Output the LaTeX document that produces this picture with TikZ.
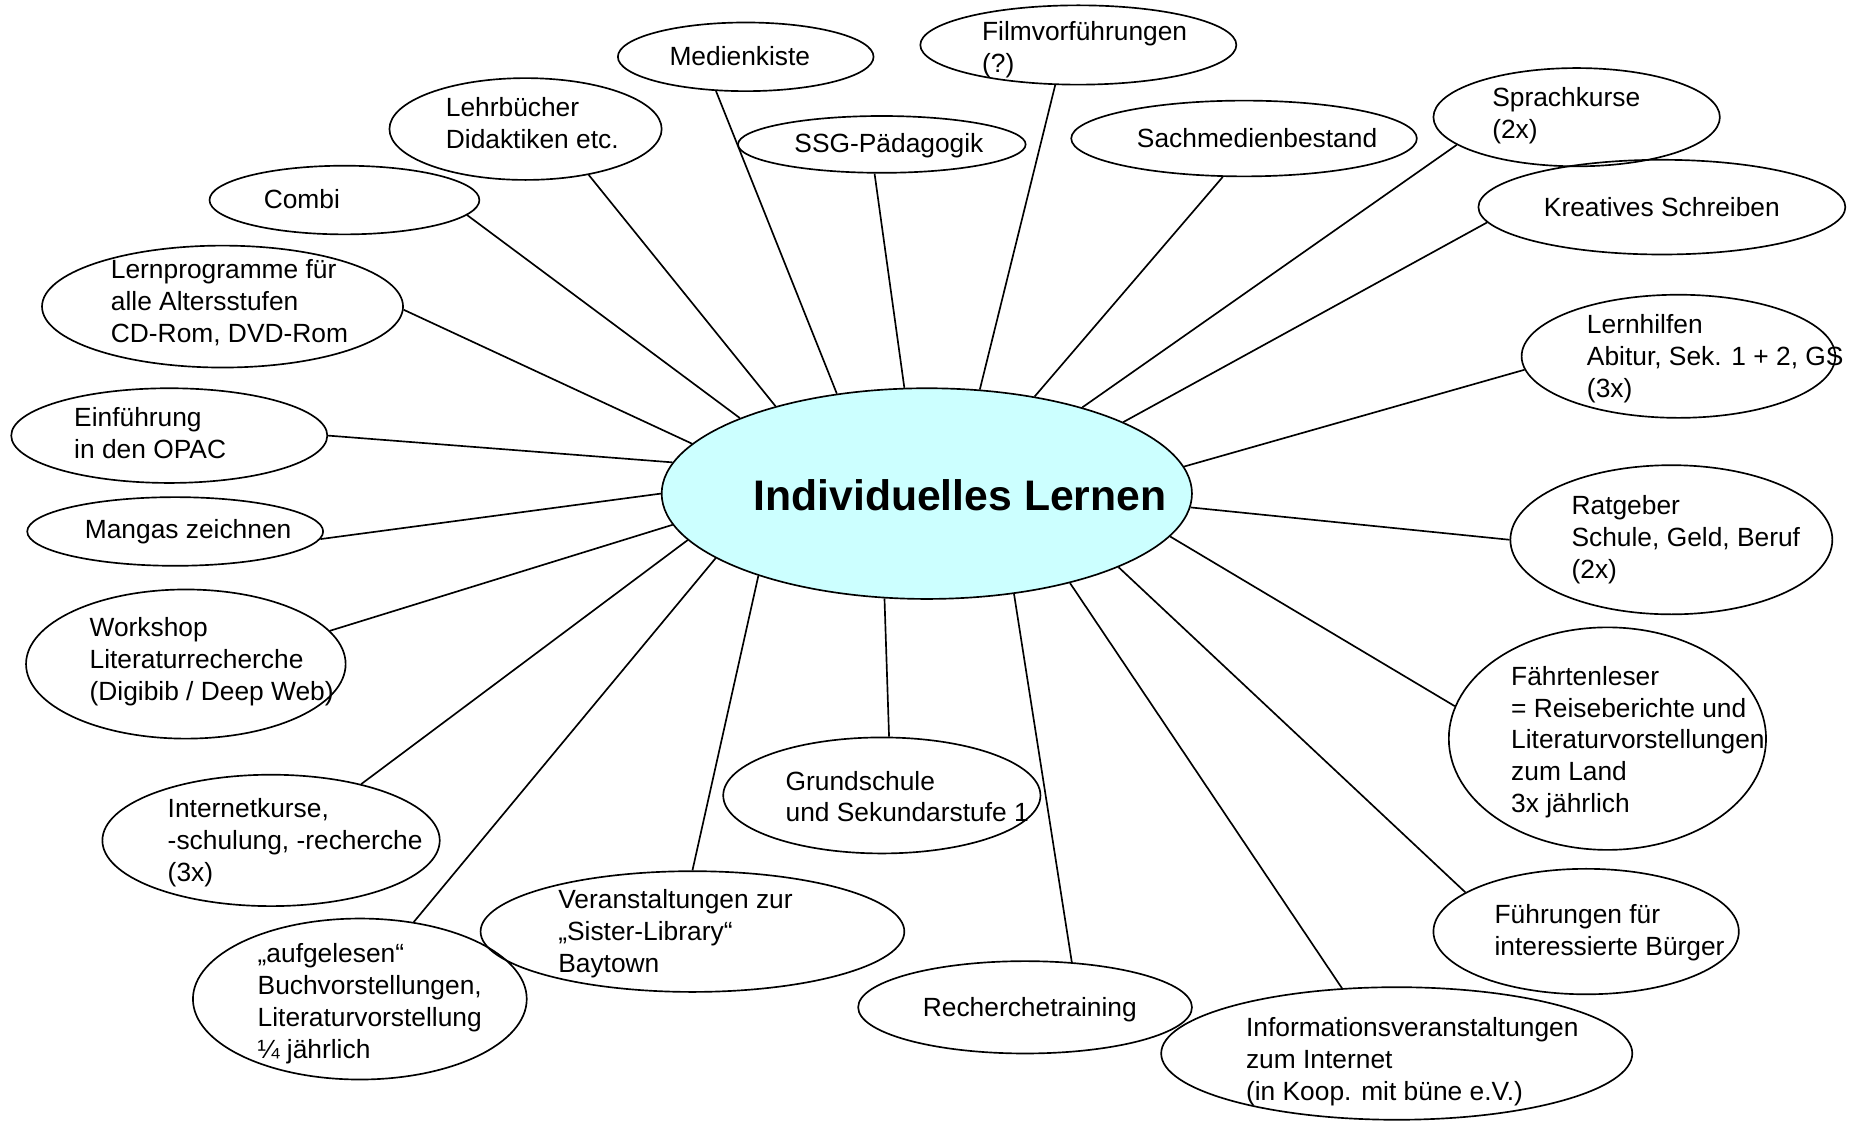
\documentclass[tikz,border=0pt]{standalone}
\usepackage{fontspec}
\setmainfont{Liberation Sans}
\usetikzlibrary{shapes.geometric}

\definecolor{hubcyan}{HTML}{CCFFFF}
\def\unit{0.015cm}

\begin{document}
\begin{tikzpicture}[x=\unit, y=-\unit, line width=0.6pt,
    dims/.style 2 args={minimum width=#1*\unit, minimum height=#2*\unit}]
  \tikzstyle{bubble}=[ellipse, draw, inner sep=0pt]
  \tikzstyle{hub}=[bubble, fill=hubcyan]
  \tikzstyle{annot}=[inner sep=0pt, align=left, font=\fontsize{9.5}{11.5}\selectfont]
  \tikzstyle{title}=[inner sep=0pt, font=\fontsize{15.4}{18}\selectfont\bfseries]

  \useasboundingbox (0,0) rectangle (1568,950);

  % Draw the centre
  \node[hub, dims={448}{178}] (hub) at (783,417) {};
  \node[title] (hub-t) at (811,418) {Individuelles Lernen};

  % Draw the upper ring
  \node[bubble, dims={216}{58}] (medien) at (630,48) {};
  \node[annot] (medien-t) at (625,47) {Medienkiste};
  \node[bubble, dims={267}{67}] (film) at (911,38) {};
  \node[annot, anchor=west] (film-t) at (829,42) {Filmvorführungen\\(?)};
  \node[bubble, dims={230}{86}] (lehr) at (444,109) {};
  \node[annot, anchor=west] (lehr-t) at (376,104) {Lehrbücher\\Didaktiken etc.};
  \node[bubble, dims={243}{48}] (ssg) at (745,122) {};
  \node[annot] (ssg-t) at (751,123) {SSG-Pädagogik};
  \node[bubble, dims={292}{64}] (sach) at (1051,117) {};
  \node[annot] (sach-t) at (1062,117) {Sachmedienbestand};
  \node[bubble, dims={242}{83}] (sprach) at (1332,99) {};
  \node[annot, anchor=west] (sprach-t) at (1260,98) {Sprachkurse\\(2x)};
  \node[bubble, dims={310}{80}] (kreativ) at (1404,175) {};
  \node[annot] (kreativ-t) at (1404,175) {Kreatives Schreiben};
  \node[bubble, dims={228}{58}] (combi) at (291,169) {};
  \node[annot] (combi-t) at (255,168) {Combi};

  % Draw the left side
  \node[bubble, dims={305}{103}] (lernprog) at (188,259) {};
  \node[annot, anchor=west] (lernprog-t) at (93,256)
    {Lernprogramme für\\alle Altersstufen\\CD-Rom, DVD-Rom};
  \node[bubble, dims={267}{80}] (opac) at (143,368) {};
  \node[annot, anchor=west] (opac-t) at (62,366) {Einführung\\in den OPAC};
  \node[bubble, dims={250}{58}] (manga) at (148,449) {};
  \node[annot, anchor=west] (manga-t) at (71,449) {Mangas zeichnen};
  \node[bubble, dims={270}{126}] (workshop) at (157,561) {};
  \node[annot, anchor=west] (workshop-t) at (75,559)
    {Workshop\\Literaturrecherche\\(Digibib / Deep Web)};
  \node[bubble, dims={285}{111}] (internet) at (229,710) {};
  \node[annot, anchor=west] (internet-t) at (141,712)
    {Internetkurse,\\-schulung, -recherche\\(3x)};
  \node[bubble, dims={282}{136}] (aufg) at (304,844) {};
  \node[annot, anchor=west] (aufg-t) at (217,848)
    {„aufgelesen“\\Buchvorstellungen,\\Literaturvorstellung\\¼ jährlich};

  % Draw the lower ring
  \node[bubble, dims={358}{102}] (sister) at (585,787) {};
  \node[annot, anchor=west] (sister-t) at (471,789)
    {Veranstaltungen zur\\„Sister-Library“\\Baytown};
  \node[bubble, dims={268}{98}] (grund) at (745,672) {};
  \node[annot, anchor=west] (grund-t) at (663,673)
    {Grundschule\\und Sekundarstufe 1};
  \node[bubble, dims={282}{78}] (recherche) at (866,851) {};
  \node[annot] (recherche-t) at (870,853) {Recherchetraining};
  \node[bubble, dims={398}{112}] (info) at (1180,890) {};
  \node[annot, anchor=west] (info-t) at (1052,897)
    {Informationsveranstaltungen\\zum Internet\\(in Koop. mit büne e.V.)};

  % Draw the right side
  \node[bubble, dims={258}{106}] (fuehr) at (1340,787) {};
  \node[annot, anchor=west] (fuehr-t) at (1262,788)
    {Führungen für\\interessierte Bürger};
  \node[bubble, dims={268}{188}] (faehrt) at (1358,624) {};
  \node[annot, anchor=west] (faehrt-t) at (1276,627)
    {Fährtenleser\\= Reiseberichte und\\Literaturvorstellungen\\zum Land\\3x jährlich};
  \node[bubble, dims={272}{126}] (ratgeber) at (1412,456) {};
  \node[annot, anchor=west] (ratgeber-t) at (1327,456)
    {Ratgeber\\Schule, Geld, Beruf\\(2x)};
  \node[bubble, dims={265}{104}] (lernhilf) at (1418,301) {};
  \node[annot, anchor=west] (lernhilf-t) at (1340,303)
    {Lernhilfen\\Abitur, Sek. 1 + 2, GS\\(3x)};

  % Connect the centre with every topic
  \foreach \name/\a/\b in {lernprog/168.3/-1.5, combi/158.2/-7.1,
      lehr/150.4/-36.3, medien/132.8/-131.6, ssg/102.2/-104,
      film/63.2/-120.3, sach/42.6/-119.4, sprach/29.8/-167.5,
      kreativ/20.2/-175.1, lernhilf/6.9/-175.5, ratgeber/-3.4/180,
      faehrt/-10.8/168.9, fuehr/-21.6/162.9, info/-32.1/130.8,
      recherche/-49.6/44, grund/-112.9/83, sister/-154.8/90,
      aufg/-163.6/55.8, internet/-169.1/32.2, workshop/-173/13.3,
      manga/180/-3.4, opac/173.1/0.8}
    \draw (hub.\a) -- (\name.\b);
\end{tikzpicture}
\end{document}
